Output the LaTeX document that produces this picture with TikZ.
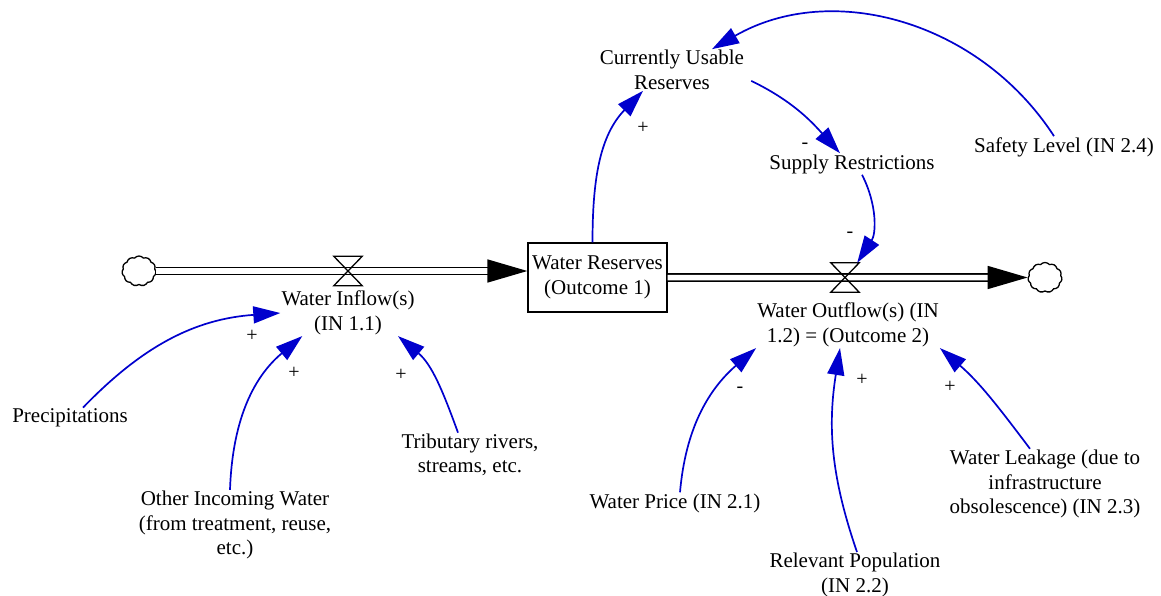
\documentclass[tikz,border=0pt]{standalone}
\usepackage{fontspec}
\setmainfont{Liberation Serif}
\usetikzlibrary{arrows.meta,shapes.symbols,calc}
\definecolor{linkblue}{RGB}{0,0,205}
\begin{document}
\begin{tikzpicture}[x=1pt,y=1pt,
  lbl/.style={font=\fontsize{21}{24.5}\selectfont, align=center, inner sep=1pt},
  pol/.style={font=\fontsize{20}{22}\selectfont, inner sep=0pt},
  link/.style={draw=linkblue, line width=1.7pt, -{Triangle[length=27pt,width=17pt]}},
  pipe/.style={draw=black, double=white, line width=1.6pt, double distance=5.5pt},
  pipetip/.style={-{Triangle[length=40pt,width=23pt]}},
  valvebox/.style={minimum width=28pt, minimum height=29pt, inner sep=0pt},
  valveline/.style={draw=black, line width=1.3pt},
  sky/.style={cloud, cloud puffs=11, cloud puff arc=100, aspect=1.15, draw=black, line width=1.3pt, minimum width=34pt, minimum height=30pt, inner sep=0pt},
  stock/.style={draw=black, line width=1.3pt, minimum width=139pt, minimum height=69pt, align=center, font=\fontsize{21}{24.5}\selectfont, inner sep=1pt}
]
\path[use as bounding box] (0,0) rectangle (1161,-596);

% flows
\node[sky] (cin) at (139,-271) {};
\node[sky] (cout) at (1045,-277.5) {};
\node[stock] (box) at (597.5,-277.5) {Water Reserves\\(Outcome 1)};
\draw[pipe,pipetip] (cin.east) -- (cin.east -| box.west);
\draw[pipe,pipetip] (box.east) -- (cout.west);

\node[valvebox] (vin) at (348,-271) {};
\node[valvebox] (vout) at (845,-277.5) {};
\draw[valveline] (vin.north west) -- (vin.north east) -- (vin.south west) -- (vin.south east) -- cycle;
\draw[valveline] (vout.north west) -- (vout.north east) -- (vout.south west) -- (vout.south east) -- cycle;

% labels
\node[lbl] (inflow) at (348,-313) {Water Inflow(s)\\(IN 1.1)};
\node[lbl] (outflow) at (848,-325) {Water Outflow(s) (IN\\1.2) = (Outcome 2)};
\node[lbl] (cur) at (672,-70) {Currently Usable\\Reserves};
\node[lbl] (sup) at (852,-164) {Supply Restrictions};
\node[lbl] (safe) at (1064,-147) {Safety Level (IN 2.4)};
\node[lbl] (precip) at (70,-418) {Precipitations};
\node[lbl] (other) at (235,-525) {Other Incoming Water\\(from treatment, reuse,\\etc.)};
\node[lbl] (trib) at (470,-455) {Tributary rivers,\\streams, etc.};
\node[lbl] (price) at (675,-503) {Water Price (IN 2.1)};
\node[lbl] (pop) at (855,-575) {Relevant Population\\(IN 2.2)};
\node[lbl] (leak) at (1045,-484) {Water Leakage (due to\\infrastructure\\obsolescence) (IN 2.3)};

% links
\draw[link] ([xshift=13pt]precip.north) to[out=46,in=184] (inflow.west);
\draw[link] ([xshift=-5pt]other.north) to[out=88,in=220] ([xshift=22pt]inflow.south west);
\draw[link] ([xshift=-12pt]trib.north) to[out=110,in=320] ([xshift=50pt]inflow.south);
\draw[link] ([xshift=-5pt]box.north) to[out=90,in=226] ([xshift=-29pt]cur.south);
\draw[link] ([xshift=6pt,yshift=10pt]cur.south east) to[out=-26,in=132] ([xshift=-12pt]sup.north);
\draw[link] ([xshift=-10pt]safe.north) to[out=123,in=30] ([xshift=40pt]cur.north);
\draw[link] ([xshift=10pt]sup.south) to[out=-63,in=57] ([xshift=-2pt]vout.north east);
\draw[link] ([xshift=5pt]price.north) to[out=85,in=221] (outflow.south west);
\draw[link] ([xshift=2pt]pop.north) to[out=109,in=261] ([xshift=-8pt]outflow.south);
\draw[link] ([xshift=-15pt]leak.north) to[out=127,in=319] (outflow.south east);

% polarities
\node[pol] (s1) at (252,-336) {+};
\node[pol] (s2) at (294,-373) {+};
\node[pol] (s3) at (401,-375) {+};
\node[pol] (s4) at (643,-128) {+};
\node[pol] (s5) at (805,-146) {-};
\node[pol] (s6) at (850,-235) {-};
\node[pol] (s7) at (740,-390) {-};
\node[pol] (s8) at (862,-380) {+};
\node[pol] (s9) at (950,-387) {+};
\end{tikzpicture}
\end{document}
